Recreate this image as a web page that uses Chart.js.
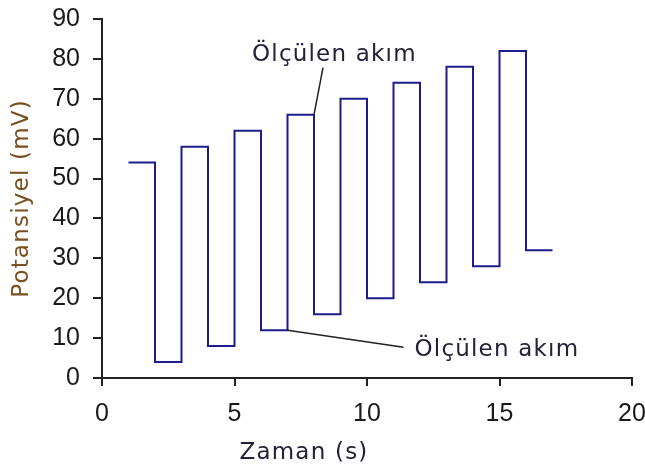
<!DOCTYPE html>
<html>
<head>
<meta charset="utf-8">
<style>
  html, body { margin: 0; padding: 0; background: #ffffff; }
  #wrap { width: 645px; height: 472px; position: relative; }
</style>
<script src="https://cdn.jsdelivr.net/npm/chart.js@4/dist/chart.umd.min.js"></script>
</head>
<body>
<div id="wrap"><canvas id="chart" width="645" height="472"></canvas></div>
<script>
// Square-wave potential program: each value holds from the previous time up to this time
const timeSeconds = [1, 2, 3, 4, 5, 6, 7, 8, 9, 10, 11, 12, 13, 14, 15, 16, 17];
const potentialMv = [54, 4, 58, 8, 62, 12, 66, 16, 70, 20, 74, 24, 78, 28, 82, 32, 32];

const xTicks = [0, 5, 10, 15, 20];
const yTicks = [0, 10, 20, 30, 40, 50, 60, 70, 80, 90];

const xTitle = 'Zaman (s)';
const yTitle = 'Potansiyel (mV)';
const noteText = 'Ölçülen akım';
// points where the current is sampled (end of a high step, end of a low step)
const notePoints = [{ t: 8, v: 66 }, { t: 7, v: 12 }];

const points = timeSeconds.map((t, i) => ({ x: t, y: potentialMv[i] }));

const TEXT_FONT = '23px "DejaVu Sans", Verdana, sans-serif';
const TICK_FONT = { family: '"Liberation Sans", Arial, sans-serif', size: 25 };

const textPlugin = {
  id: 'chartTexts',
  afterDraw(chart) {
    const ctx = chart.ctx;
    const xs = chart.scales.x, ys = chart.scales.y;
    const area = chart.chartArea;
    ctx.save();
    ctx.font = TEXT_FONT;
    ctx.letterSpacing = '1.2px';

    // axis titles
    ctx.fillStyle = '#24223a';
    ctx.textAlign = 'center';
    ctx.textBaseline = 'alphabetic';
    ctx.fillText(xTitle, 304, 459);

    ctx.save();
    ctx.translate(28, (area.top + area.bottom) / 2);
    ctx.rotate(-Math.PI / 2);
    ctx.fillStyle = '#7a5020';
    ctx.fillText(yTitle, 0, 0);
    ctx.restore();

    // callouts with leader lines
    ctx.strokeStyle = '#222222';
    ctx.lineWidth = 1.5;
    const top = notePoints[0];
    const ax = xs.getPixelForValue(top.t), ay = ys.getPixelForValue(top.v);
    ctx.beginPath();
    ctx.moveTo(ax, ay);
    ctx.lineTo(ax + 9, ay - 47);
    ctx.stroke();
    ctx.textAlign = 'left';
    ctx.fillStyle = '#24223a';
    ctx.fillText(noteText, ax - 62, ay - 54);

    const low = notePoints[1];
    const bx = xs.getPixelForValue(low.t), by = ys.getPixelForValue(low.v);
    ctx.beginPath();
    ctx.moveTo(bx, by);
    ctx.lineTo(bx + 116, by + 17);
    ctx.stroke();
    ctx.fillText(noteText, bx + 127, by + 26);
    ctx.restore();
  }
};

new Chart(document.getElementById('chart'), {
  type: 'line',
  data: {
    datasets: [{
      data: points,
      stepped: 'before',
      borderColor: '#1c1c8c',
      borderWidth: 2,
      pointRadius: 0,
      fill: false
    }]
  },
  options: {
    responsive: false,
    animation: false,
    events: [],
    layout: { padding: { top: 19, right: 13, left: 0, bottom: 0 } },
    plugins: { legend: { display: false }, tooltip: { enabled: false } },
    scales: {
      x: {
        type: 'linear',
        min: 0,
        max: 20,
        afterBuildTicks(scale) { scale.ticks = xTicks.map(v => ({ value: v })); },
        afterFit(scale) {
          scale.height = 94;
          scale.paddingLeft = 0;
          scale.paddingRight = 0;
        },
        grid: { drawOnChartArea: false, drawTicks: true, tickLength: 8, color: '#222222', lineWidth: 2 },
        border: { display: true, color: '#222222', width: 2 },
        ticks: {
          color: '#1a1a1a',
          padding: 13,
          maxRotation: 0,
          font: TICK_FONT
        }
      },
      y: {
        type: 'linear',
        min: 0,
        max: 90,
        afterBuildTicks(scale) { scale.ticks = yTicks.map(v => ({ value: v })); },
        afterFit(scale) {
          scale.width = 102;
          scale.paddingTop = 0;
          scale.paddingBottom = 0;
        },
        grid: { drawOnChartArea: false, drawTicks: true, tickLength: 9, color: '#222222', lineWidth: 2 },
        border: { display: true, color: '#222222', width: 2 },
        ticks: {
          color: '#1a1a1a',
          padding: 13,
          font: TICK_FONT
        }
      }
    }
  },
  plugins: [textPlugin]
});
</script>
</body>
</html>
